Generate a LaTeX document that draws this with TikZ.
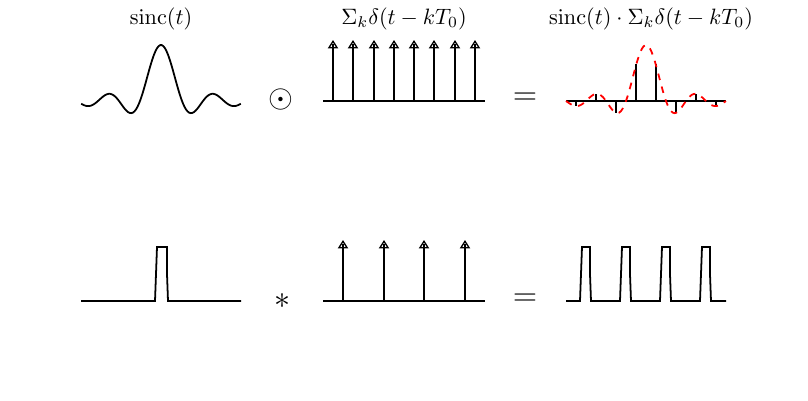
\documentclass[tikz,border=0pt]{standalone}
\usepackage{amssymb}
\usepackage{xcolor}
\usepackage{amsmath}
\usetikzlibrary{arrows.meta}

\begin{document}
\begin{tikzpicture}[x=0.45pt,y=-0.45pt,line width=0.8pt,
        stem/.style={-{Triangle[open,width=4.6pt,length=3.8pt,line width=0.6pt]},postaction={draw,-,shorten >=1.8pt}}]
        \useasboundingbox (0,0) rectangle (808,401);
        % Titles
        \node (sinclabel) at (161,19) {$\mathrm{sinc}(t)$};
        \node (comblabel) at (404,19) {$\Sigma_k\delta(t-kT_0)$};
        \node (prodlabel) at (651,19) {$\mathrm{sinc}(t)\cdot\Sigma_k\delta(t-kT_0)$};
        % Operators
        \node (odot) at (281,100) {\Large$\odot$};
        \node (eqtop) at (525,99) {\Large$=$};
        \node (conv) at (282,301) {\Large$*$};
        \node (eqbot) at (525,300) {\Large$=$};
        % Top row: sinc
        \draw plot[domain=-3.8:3.8,samples=100] ({161+21*\x},{101-56*sin(180*\x)/(pi*\x)});
        % Top row: comb
        \draw (323,101) -- (485,101);
        \draw[stem] (333,101) -- (333,40);
        \draw[stem] (353,101) -- (353,40);
        \draw[stem] (374,101) -- (374,40);
        \draw[stem] (394,101) -- (394,40);
        \draw[stem] (414,101) -- (414,40);
        \draw[stem] (434,101) -- (434,40);
        \draw[stem] (455,101) -- (455,40);
        \draw[stem] (475,101) -- (475,40);
        % Top row: sampled sinc
        \draw (566,101) -- (726,101);
        \draw[line width=1pt] (576,101) -- (576,106.1);
        \draw[line width=1pt] (596,101) -- (596,93.9);
        \draw[line width=1pt] (616,101) -- (616,112.9);
        \draw[line width=1pt] (636,101) -- (636,64);
        \draw[line width=1pt] (656,101) -- (656,64);
        \draw[line width=1pt] (676,101) -- (676,112.9);
        \draw[line width=1pt] (696,101) -- (696,93.9);
        \draw[line width=1pt] (716,101) -- (716,106.1);
        \draw[red,dashed] plot[domain=-4:4,samples=100] ({646+20*\x},{101-56*sin(180*\x)/(pi*\x)});
        % Bottom row: pulse
        \draw (81,301) -- (155,301) -- (156,274) -- (157,247) -- (167,247) -- (167,274) -- (168,301) -- (241,301);
        % Bottom row: comb
        \draw (323,301) -- (485,301);
        \draw[stem] (343,301) -- (343,240);
        \draw[stem] (384,301) -- (384,240);
        \draw[stem] (424,301) -- (424,240);
        \draw[stem] (465,301) -- (465,240);
        % Bottom row: pulse train
        \draw (566,301) -- (580,301) -- (581,274) -- (582,247) -- (590,247) -- (590,274) -- (591,301)
              -- (620,301) -- (621,274) -- (622,247) -- (630,247) -- (630,274) -- (631,301)
              -- (660,301) -- (661,274) -- (662,247) -- (670,247) -- (670,274) -- (671,301)
              -- (700,301) -- (701,274) -- (702,247) -- (710,247) -- (710,274) -- (711,301)
              -- (726,301);
    \end{tikzpicture}
\end{document}
